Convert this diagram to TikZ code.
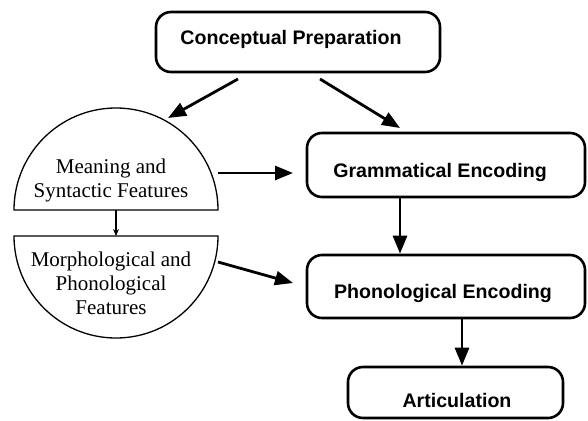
\documentclass[tikz,border=0pt]{standalone}
\usepackage{fontspec}
\setmainfont{Liberation Serif}
\newfontfamily\boxfont{Liberation Sans}
\usetikzlibrary{arrows.meta}
\begin{document}
\begin{tikzpicture}[x=1bp,y=1bp,
  box/.style={draw, line width=2.6bp, rounded corners=15bp, inner sep=0pt,
    font=\boxfont\bfseries\fontsize{19.6bp}{22bp}\selectfont},
  arr/.style={line width=2.8bp, -{Triangle[length=18bp,width=14bp]}},
  thinarr/.style={line width=1.2bp, -{Stealth[length=7bp,width=6bp]}},
  half/.style={draw, line width=1.3bp},
  serif/.style={align=center, inner sep=0pt,
    font=\fontsize{21bp}{24bp}\selectfont}]
\useasboundingbox (0,0) rectangle (588,420);
% boxes
\node[box, minimum width=284bp, minimum height=60bp, text height=14bp, text depth=10bp] (cp) at (298,378) {Conceptual Preparation\kern14bp};
\node[box, minimum width=278bp, minimum height=64bp, text height=28bp, text depth=4bp] (gram) at (446,255) {Grammatical Encoding\kern12bp};
\node[box, minimum width=278bp, minimum height=63bp, text height=28bp, text depth=4bp] (phon) at (446,133.5) {Phonological Encoding\kern6bp};
\node[box, minimum width=215bp, minimum height=51bp, text height=33bp, text depth=4bp] (art) at (455.5,27.5) {\kern3bp Articulation};
% half circles
\draw[half] (14,210) arc[start angle=180, end angle=0, radius=102] -- cycle;
\draw[half] (14,184) -- (218,184) arc[start angle=0, end angle=-180, radius=102] -- cycle;
\node[serif] (msf) at (111,240) {Meaning and\\Syntactic Features};
\node[serif] (mpf) at (111,136.5) {Morphological and\\Phonological\\Features};
% coordinates
\coordinate (topbase) at (116,210);
\coordinate (botbase) at (116,184);
\coordinate (c1s) at (238,341);
\coordinate (c1e) at (168,302);
\coordinate (c2s) at (320,341);
\coordinate (c2e) at (400,292);
\coordinate (m1s) at (218,247);
\coordinate (m1e) at (293,247);
\coordinate (m2s) at (218,158);
\coordinate (m2e) at (293,137);
\coordinate (gx) at (400,0);
\coordinate (px) at (462,0);
% connectors
\draw[arr] (c1s) -- (c1e);
\draw[arr] (c2s) -- (c2e);
\draw[arr] (m1s) -- (m1e);
\draw[arr] (m2s) -- (m2e);
\draw[arr] (gram.south -| gx) -- (phon.north -| gx);
\draw[arr] (phon.south -| px) -- (art.north -| px);
\draw[thinarr] (topbase) -- (botbase);
\end{tikzpicture}
\end{document}
